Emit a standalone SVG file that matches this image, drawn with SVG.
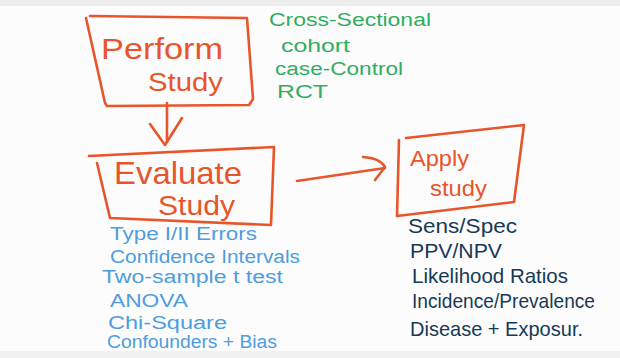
<svg xmlns="http://www.w3.org/2000/svg" width="620" height="358" viewBox="0 0 620 358">
<defs>
<style>
.box{fill:none;stroke:#e8552b;stroke-width:2.6;stroke-linecap:round;stroke-linejoin:round}
.edge{fill:none;stroke:#e8552b;stroke-width:2.6;stroke-linecap:round;stroke-linejoin:round}
.lbl{font-family:"Liberation Sans",Arial,sans-serif;fill:#e8552b}
.g{font-family:"Liberation Sans",Arial,sans-serif;fill:#2fae5f;font-size:18px}
.b{font-family:"Liberation Sans",Arial,sans-serif;fill:#4d9de0;font-size:18px}
.n{font-family:"Liberation Sans",Arial,sans-serif;fill:#163a55;font-size:21px}
</style>
</defs>
<rect x="0" y="0" width="620" height="358" fill="#fdfcfd"/>
<rect x="0" y="0" width="620" height="6" fill="#ececec"/>
<rect x="0" y="351" width="620" height="7" fill="#f1f1f1"/>

<g id="perform">
<path class="box" d="M90,16 L247,18 L253,99 L249,105 L107,106 L105,103 L86,18"/>
<text class="lbl" x="101" y="59" font-size="29" textLength="122" lengthAdjust="spacingAndGlyphs">Perform</text>
<text class="lbl" x="148" y="91" font-size="26" textLength="75" lengthAdjust="spacingAndGlyphs">Study</text>
</g>

<g id="designs">
<text class="g" x="269" y="26" textLength="162" lengthAdjust="spacingAndGlyphs">Cross-Sectional</text>
<text class="g" x="281" y="52" textLength="69" lengthAdjust="spacingAndGlyphs">cohort</text>
<text class="g" x="275" y="75" textLength="128" lengthAdjust="spacingAndGlyphs">case-Control</text>
<text class="g" x="277" y="98" textLength="51" lengthAdjust="spacingAndGlyphs">RCT</text>
</g>

<g id="evaluate">
<path class="box" d="M89,156 L274,147 L271,225 L110,218 L97,163"/>
<text class="lbl" x="114" y="184" font-size="32" textLength="128" lengthAdjust="spacingAndGlyphs">Evaluate</text>
<text class="lbl" x="158" y="215" font-size="27" textLength="77" lengthAdjust="spacingAndGlyphs">Study</text>
</g>

<g id="apply">
<path class="box" d="M406,138 L524,125 L514,202 L397,216 L399,140"/>
<text class="lbl" x="410" y="166" font-size="22" textLength="59" lengthAdjust="spacingAndGlyphs">Apply</text>
<text class="lbl" x="430" y="196" font-size="22" textLength="57" lengthAdjust="spacingAndGlyphs">study</text>
</g>

<g id="connectors">
<path class="edge" d="M167,103 L167,142"/>
<path class="edge" d="M150,124 L165,145 L182,118"/>
<path class="edge" d="M297,181 L385,168"/>
<path class="edge" d="M363,157 Q380,158 385,167 L375,180"/>
</g>

<g id="evaluate-topics">
<text class="b" x="110" y="240" textLength="147" lengthAdjust="spacingAndGlyphs">Type I/II Errors</text>
<text class="b" x="110" y="263" textLength="190" lengthAdjust="spacingAndGlyphs">Confidence Intervals</text>
<text class="b" x="102" y="283" textLength="181" lengthAdjust="spacingAndGlyphs">Two-sample t test</text>
<text class="b" x="110" y="307" textLength="78" lengthAdjust="spacingAndGlyphs">ANOVA</text>
<text class="b" x="108" y="329" textLength="119" lengthAdjust="spacingAndGlyphs">Chi-Square</text>
<text class="b" x="107" y="348" textLength="170" lengthAdjust="spacingAndGlyphs">Confounders + Bias</text>
</g>

<g id="apply-topics">
<text class="n" x="408" y="233" textLength="109" lengthAdjust="spacingAndGlyphs">Sens/Spec</text>
<text class="n" x="410" y="258" textLength="92" lengthAdjust="spacingAndGlyphs">PPV/NPV</text>
<text class="n" x="412" y="283" textLength="156" lengthAdjust="spacingAndGlyphs">Likelihood Ratios</text>
<text class="n" x="412" y="308" textLength="183" lengthAdjust="spacingAndGlyphs">Incidence/Prevalence</text>
<text class="n" x="410" y="336" textLength="173" lengthAdjust="spacingAndGlyphs">Disease + Exposur.</text>
</g>
</svg>
